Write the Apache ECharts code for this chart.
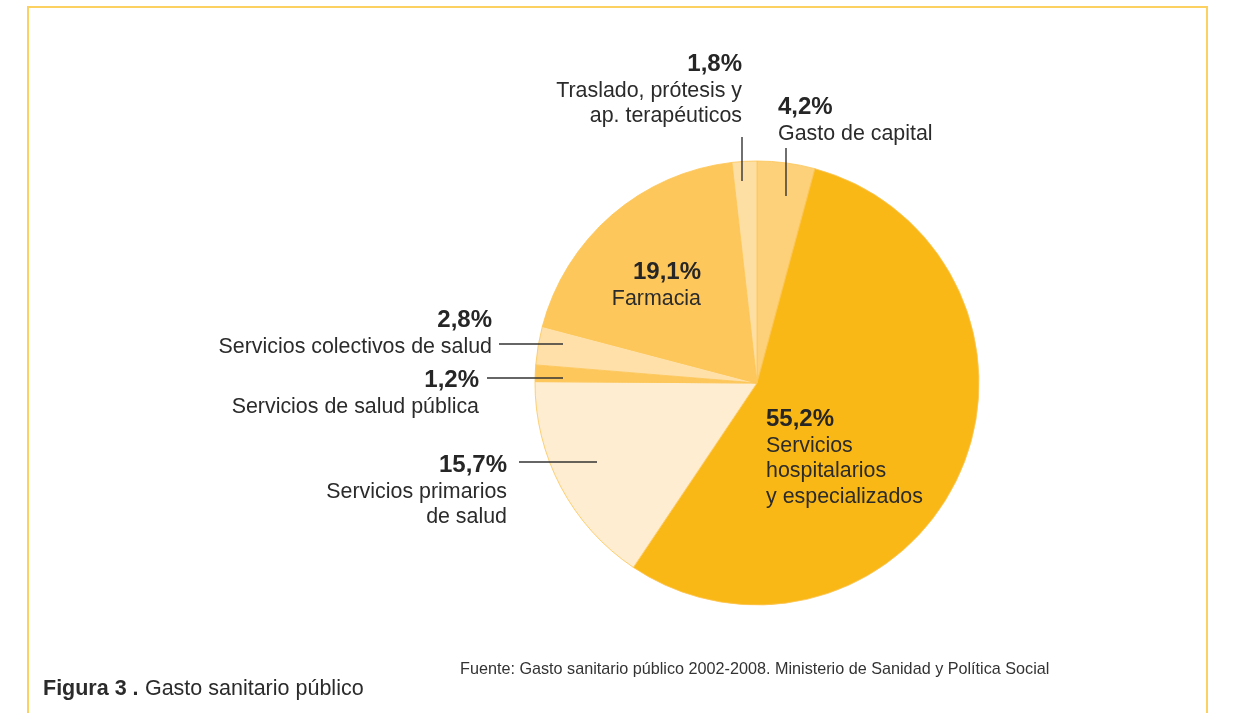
<!DOCTYPE html>
<html>
<head>
<meta charset="utf-8">
<script src="https://cdn.jsdelivr.net/npm/echarts@6/dist/echarts.min.js"></script>
<style>
  html, body { margin: 0; padding: 0; background: #ffffff; }
  #chart { width: 1238px; height: 713px; }
</style>
</head>
<body>
<div id="chart"></div>
<script>
// Public health spending by function (share of total, %)
const categories = [
  'Gasto de capital',
  'Servicios\nhospitalarios\ny especializados',
  'Servicios primarios\nde salud',
  'Servicios de salud pública',
  'Servicios colectivos de salud',
  'Farmacia',
  'Traslado, prótesis y\nap. terapéuticos'
];
const shares = [4.2, 55.2, 15.7, 1.2, 2.8, 19.1, 1.8];
const sliceColors = ['#fdd07a', '#fab817', '#feedd0', '#fdc75c', '#fee0a8', '#fdc75b', '#fedfa3'];

// Label anchors: [x, top y, alignment]
const labelAnchors = [
  [778, 94, 'left'],
  [766, 406, 'left'],
  [507, 452, 'right'],
  [479, 367, 'right'],
  [492, 307, 'right'],
  [701, 259, 'right'],
  [742, 51, 'right']
];

// Leader lines for the small slices: [x1, y1, x2, y2]
const leaderLines = [
  [786, 148, 786, 196],
  [742, 137, 742, 181],
  [499, 344, 563, 344],
  [487, 378, 563, 378],
  [519, 462, 597, 462]
];

const FONT = 'Liberation Sans, Arial, sans-serif';
const fmt = v => v.toFixed(1).replace('.', ',') + '%';

const chart = echarts.init(document.getElementById('chart'), null, { renderer: 'canvas' });

const data = categories.map((name, i) => ({
  name: name,
  value: shares[i],
  itemStyle: { color: sliceColors[i] },
  label: {
    align: labelAnchors[i][2],
    rich: {
      p: { fontFamily: FONT, fontWeight: 'bold', fontSize: 24, color: '#262626', lineHeight: 27, align: labelAnchors[i][2] },
      n: { fontFamily: FONT, fontSize: 21.4, color: '#2b2b2b', lineHeight: 25.5, align: labelAnchors[i][2] }
    }
  }
}));

const option = {
  animation: false,
  backgroundColor: '#ffffff',
  graphic: [
    {
      type: 'rect',
      shape: { x: 28, y: 7, width: 1179, height: 720 },
      style: { fill: 'none', stroke: '#fdd062', lineWidth: 2 },
      silent: true
    },
    ...leaderLines.map(l => ({
      type: 'line',
      shape: { x1: l[0], y1: l[1], x2: l[2], y2: l[3] },
      style: { stroke: '#333333', lineWidth: 1.4 },
      z: 100,
      silent: true
    })),
    {
      type: 'text',
      left: 460,
      top: 662,
      style: {
        text: 'Fuente: Gasto sanitario público 2002-2008. Ministerio de Sanidad y Política Social',
        font: '16.2px "Liberation Sans", Arial, sans-serif',
        fill: '#333333'
      }
    },
    {
      type: 'text',
      left: 43,
      top: 678,
      style: {
        text: '{b|Figura 3 .}{s|} {r|Gasto sanitario público}',
        rich: {
          b: { fontFamily: FONT, fontWeight: 'bold', fontSize: 21.5, fill: '#2b2b2b' },
          s: { width: 3 },
          r: { fontFamily: FONT, fontSize: 21.5, fill: '#2b2b2b' }
        }
      }
    }
  ],
  series: [{
    type: 'pie',
    center: [757, 383],
    radius: [0, 222],
    startAngle: 90,
    clockwise: true,
    avoidLabelOverlap: false,
    itemStyle: { borderColor: '#fcc555', borderWidth: 0.8 },
    label: {
      show: true,
      position: 'outside',
      formatter: p => '{p|' + fmt(p.value) + '}\n{n|' + p.name + '}'
    },
    labelLine: { show: false },
    labelLayout: params => {
      const a = labelAnchors[params.dataIndex];
      return { x: a[0], y: a[1], align: a[2], verticalAlign: 'top' };
    },
    emphasis: { disabled: true },
    data: data
  }]
};

chart.setOption(option);
</script>
</body>
</html>
